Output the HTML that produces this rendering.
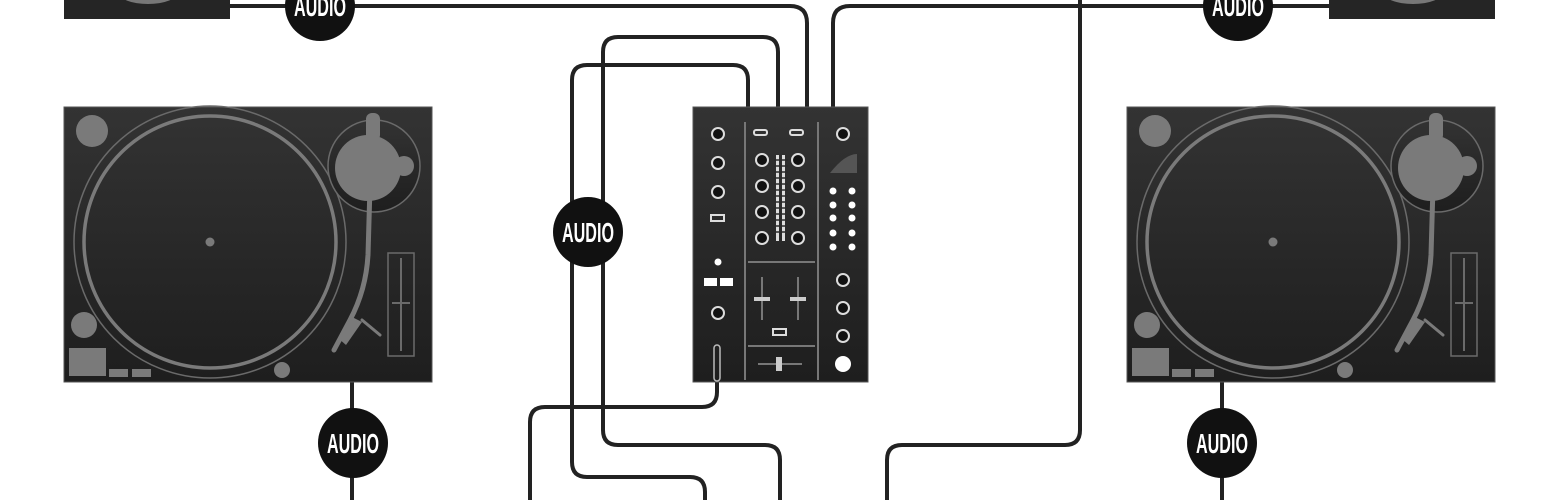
<!DOCTYPE html>
<html><head><meta charset="utf-8"><style>
html,body{margin:0;padding:0;background:#fff;}
svg{display:block;}
.t{font-family:"Liberation Sans",sans-serif;font-weight:bold;fill:#fff;font-size:28px;}
</style></head><body>
<svg width="1562" height="500" viewBox="0 0 1562 500" xmlns="http://www.w3.org/2000/svg">
<defs>
<linearGradient id="g" x1="0" y1="0" x2="0" y2="1"><stop offset="0" stop-color="#333"/><stop offset="1" stop-color="#1e1e1e"/></linearGradient>
<g id="tt">
<rect x="64" y="107" width="368" height="275" fill="url(#g)" stroke="#555" stroke-width="1"/>
<circle cx="210" cy="242" r="136" fill="none" stroke="#6a6a6a" stroke-width="1.5"/>
<circle cx="210" cy="242" r="126" fill="none" stroke="#7a7a7a" stroke-width="3.5"/>
<circle cx="210" cy="242" r="4.5" fill="#7a7a7a"/>
<circle cx="374" cy="166" r="46" fill="url(#g)" stroke="#6a6a6a" stroke-width="1.5"/>
<circle cx="368" cy="168" r="33" fill="#7a7a7a"/>
<circle cx="404" cy="166" r="10" fill="#7a7a7a"/>
<path d="M372 118 L368 255 Q366 290 350 320 L334 350" fill="none" stroke="#7a7a7a" stroke-width="5" stroke-linecap="round"/>
<rect x="366" y="113" width="14" height="28" rx="6" fill="#7a7a7a"/>
<path d="M350 316 L362 322 L346 345 L338 338 Z" fill="#7a7a7a"/>
<line x1="362" y1="320" x2="380" y2="335" stroke="#7a7a7a" stroke-width="3" stroke-linecap="round"/>
<rect x="388" y="253" width="26" height="103" fill="none" stroke="#6a6a6a" stroke-width="1.5"/>
<line x1="401" y1="258" x2="401" y2="351" stroke="#6a6a6a" stroke-width="2"/>
<line x1="392" y1="303" x2="410" y2="303" stroke="#6a6a6a" stroke-width="2"/>
<circle cx="92" cy="131" r="16" fill="#7a7a7a"/>
<circle cx="84" cy="325" r="13" fill="#7a7a7a"/>
<rect x="69" y="348" width="37" height="28" fill="#7a7a7a"/>
<rect x="109" y="369" width="19" height="8" fill="#7a7a7a"/>
<rect x="132" y="369" width="19" height="8" fill="#7a7a7a"/>
<circle cx="282" cy="370" r="8" fill="#7a7a7a"/>
</g>
<g id="au"><circle r="35" fill="#111"/><text class="t" x="0" y="10" text-anchor="middle" textLength="52" lengthAdjust="spacingAndGlyphs">AUDIO</text></g>
<g id="kn"><circle r="6" fill="#111" stroke="#ddd" stroke-width="2"/></g>
</defs>
<g fill="none" stroke="#222" stroke-width="4">
<path d="M230 6 H790 Q807 6 807 23 V107"/>
<path d="M833 107 V23 Q833 6 850 6 H1329"/>
<path d="M1080 0 V430 Q1080 445 1065 445 H902 Q887 445 887 460 V500"/>
<path d="M748 107 V80 Q748 65 733 65 H587 Q572 65 572 80 V462 Q572 477 587 477 H690 Q705 477 705 492 V500"/>
<path d="M778 107 V52 Q778 37 763 37 H618 Q603 37 603 52 V430 Q603 445 618 445 H765 Q780 445 780 460 V500"/>
<path d="M717 345 V392 Q717 407 702 407 H545 Q530 407 530 422 V500"/>
<path d="M352 382 V500"/>
<path d="M1222 382 V500"/>
</g>
<rect x="64" y="-10" width="166" height="29" fill="#252525"/>
<rect x="1329" y="-10" width="166" height="29" fill="#252525"/>
<ellipse cx="148" cy="-8" rx="30" ry="12" fill="#777"/>
<ellipse cx="1413" cy="-8" rx="30" ry="12" fill="#777"/>
<use href="#tt"/>
<use href="#tt" transform="translate(1063,0)"/>
<use href="#au" x="320" y="6"/>
<use href="#au" x="1238" y="6"/>
<use href="#au" x="588" y="232"/>
<use href="#au" x="353" y="443"/>
<use href="#au" x="1222" y="443"/>
<rect x="693" y="107" width="175" height="275" fill="url(#g)" stroke="#555"/>
<g stroke="#777" stroke-width="2"><line x1="745" y1="122" x2="745" y2="380"/><line x1="818" y1="122" x2="818" y2="380"/>
<line x1="748" y1="262" x2="815" y2="262"/><line x1="748" y1="346" x2="815" y2="346"/>
<line x1="762" y1="277" x2="762" y2="320"/><line x1="798" y1="277" x2="798" y2="320"/>
<line x1="758" y1="364" x2="802" y2="364"/></g>
<g fill="#ccc"><rect x="754" y="297" width="16" height="4"/><rect x="790" y="297" width="16" height="4"/><rect x="776" y="357" width="6" height="14"/></g>
<use href="#kn" x="718" y="134"/><use href="#kn" x="718" y="163"/><use href="#kn" x="718" y="192"/><use href="#kn" x="718" y="313"/>
<use href="#kn" x="762" y="160"/><use href="#kn" x="762" y="186"/><use href="#kn" x="762" y="212"/><use href="#kn" x="762" y="238"/>
<use href="#kn" x="798" y="160"/><use href="#kn" x="798" y="186"/><use href="#kn" x="798" y="212"/><use href="#kn" x="798" y="238"/>
<use href="#kn" x="843" y="134"/><use href="#kn" x="843" y="280"/><use href="#kn" x="843" y="308"/><use href="#kn" x="843" y="336"/>
<g fill="none" stroke="#ddd" stroke-width="2"><rect x="711" y="215" width="13" height="6"/><rect x="773" y="329" width="13" height="6"/><rect x="754" y="130" width="13" height="5" rx="2"/><rect x="790" y="130" width="13" height="5" rx="2"/></g>
<g fill="#ddd"><rect x="776" y="155" width="3" height="86"/><rect x="782" y="155" width="3" height="86"/></g>
<g stroke="#2a2a2a" stroke-width="1.5"><line x1="774" y1="160" x2="788" y2="160"/><line x1="774" y1="166" x2="788" y2="166"/><line x1="774" y1="172" x2="788" y2="172"/><line x1="774" y1="178" x2="788" y2="178"/><line x1="774" y1="184" x2="788" y2="184"/><line x1="774" y1="190" x2="788" y2="190"/><line x1="774" y1="196" x2="788" y2="196"/><line x1="774" y1="202" x2="788" y2="202"/><line x1="774" y1="208" x2="788" y2="208"/><line x1="774" y1="214" x2="788" y2="214"/><line x1="774" y1="220" x2="788" y2="220"/><line x1="774" y1="226" x2="788" y2="226"/><line x1="774" y1="232" x2="788" y2="232"/></g>
<g fill="#fff"><circle cx="718" cy="262" r="3.5"/><rect x="704" y="278" width="13" height="8"/><rect x="720" y="278" width="13" height="8"/>
<circle cx="833" cy="191" r="3.5"/><circle cx="852" cy="191" r="3.5"/><circle cx="833" cy="205" r="3.5"/><circle cx="852" cy="205" r="3.5"/><circle cx="833" cy="218" r="3.5"/><circle cx="852" cy="218" r="3.5"/><circle cx="833" cy="233" r="3.5"/><circle cx="852" cy="233" r="3.5"/><circle cx="833" cy="247" r="3.5"/><circle cx="852" cy="247" r="3.5"/>
<circle cx="843" cy="364" r="8"/></g>
<path d="M830 173 L857 173 L857 154 Q845 154 830 173 Z" fill="#555"/>
<rect x="714" y="345" width="6" height="36" rx="3" fill="none" stroke="#bbb" stroke-width="1.5"/>
</svg>
</body></html>
